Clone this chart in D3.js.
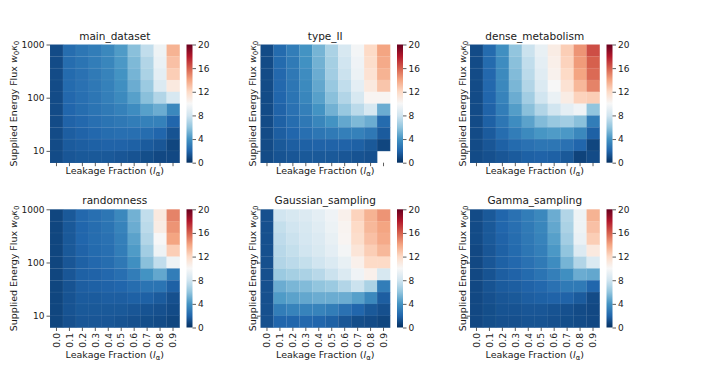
<!DOCTYPE html>
<html>
<head>
<meta charset="utf-8">
<style>
  body { margin: 0; background: #fff; }
  text { font-family: "DejaVu Sans", sans-serif; fill: #1a1a1a; }
</style>
</head>
<body>
<script src="https://d3js.org/d3.v7.min.js"></script>
<svg id="fig" width="707" height="375"></svg>
<script>
// x categories (leakage fraction), y ticks (energy flux), colorbar ticks
const leakage = [0.0, 0.1, 0.2, 0.3, 0.4, 0.5, 0.6, 0.7, 0.8, 0.9];
const fluxTicks = [1000, 100, 10];
const cbarTicks = [0, 4, 8, 12, 16, 20];
const titles = ['main_dataset', 'type_II', 'dense_metabolism',
                'randomness', 'Gaussian_sampling', 'Gamma_sampling'];

// rows: top (flux 1000) -> bottom, columns: leakage 0.0 -> 0.9
const mainDataset = [
  [1.0, 2.3, 2.7, 3.0, 3.5, 4.3, 5.8, 7.5, 9.5, 13.5],
  [1.0, 2.3, 2.6, 3.0, 3.4, 4.2, 5.5, 7.0, 9.3, 13.0],
  [1.0, 2.2, 2.5, 2.9, 3.3, 4.0, 5.3, 6.8, 9.0, 12.5],
  [1.0, 2.2, 2.5, 2.8, 3.2, 3.8, 5.0, 6.3, 8.5, 11.0],
  [1.0, 2.1, 2.4, 2.7, 3.1, 3.6, 4.5, 5.8, 7.0, 8.3],
  [1.0, 2.0, 2.3, 2.6, 2.9, 3.2, 3.7, 4.5, 5.0, 3.5],
  [1.0, 1.9, 2.1, 2.4, 2.6, 2.8, 3.0, 3.2, 3.2, 2.0],
  [1.0, 1.7, 1.9, 2.1, 2.3, 2.4, 2.4, 2.3, 2.0, 1.3],
  [1.0, 1.6, 1.7, 1.8, 1.9, 1.9, 1.8, 1.6, 1.4, 0.8],
  [1.0, 1.4, 1.5, 1.5, 1.5, 1.4, 1.3, 1.1, 0.9, 0.9]
];
const typeII = [
  [1.0, 2.2, 3.0, 4.0, 5.3, 6.8, 8.3, 9.8, 12.0, 14.0],
  [1.0, 2.2, 2.9, 3.9, 5.2, 6.6, 8.0, 9.6, 11.8, 13.8],
  [1.0, 2.1, 2.8, 3.7, 5.0, 6.5, 7.8, 9.4, 11.5, 13.5],
  [1.0, 2.1, 2.7, 3.6, 4.8, 6.2, 7.5, 9.0, 11.0, 12.8],
  [1.0, 2.0, 2.6, 3.4, 4.5, 5.8, 7.0, 8.3, 10.2, 10.2],
  [1.0, 1.9, 2.5, 3.1, 4.0, 5.2, 6.2, 7.3, 8.3, 5.0],
  [1.0, 1.8, 2.3, 2.8, 3.4, 4.0, 4.8, 5.5, 5.0, 2.2],
  [1.0, 1.7, 2.0, 2.4, 2.7, 2.9, 3.1, 3.2, 2.8, 1.6],
  [1.0, 1.5, 1.7, 1.8, 1.9, 1.9, 1.9, 1.8, 1.5, 0.8],
  [1.0, 1.3, 1.4, 1.5, 1.5, 1.5, 1.4, 1.3, 1.2, null]
];
const denseMetabolism = [
  [1.0, 2.2, 3.8, 6.0, 7.8, 9.2, 10.8, 12.5, 14.5, 16.5],
  [1.0, 2.2, 3.7, 5.8, 7.5, 9.0, 10.6, 12.3, 14.3, 16.0],
  [1.0, 2.1, 3.6, 5.6, 7.3, 8.8, 10.4, 12.0, 14.0, 15.7],
  [1.0, 2.1, 3.5, 5.4, 7.0, 8.5, 10.0, 11.5, 13.3, 15.0],
  [1.0, 2.0, 3.3, 5.0, 6.5, 8.0, 9.3, 10.8, 12.3, 12.5],
  [1.0, 1.9, 3.0, 4.4, 5.8, 7.0, 8.0, 9.0, 9.6, 6.0],
  [1.0, 1.8, 2.7, 3.7, 4.6, 5.6, 6.2, 6.5, 5.8, 3.0],
  [1.0, 1.6, 2.3, 3.0, 3.6, 4.1, 4.3, 4.2, 3.5, 1.8],
  [1.0, 1.4, 1.8, 2.2, 2.5, 2.7, 2.7, 2.5, 2.0, 0.8],
  [1.0, 1.2, 1.4, 1.6, 1.8, 1.9, 1.8, 1.5, 0.7, 1.0]
];
const randomness = [
  [0.8, 1.5, 2.1, 2.4, 2.7, 3.5, 5.2, 7.5, 11.0, 15.0],
  [0.8, 1.5, 2.0, 2.3, 2.6, 3.3, 5.0, 7.3, 10.8, 14.5],
  [0.8, 1.5, 2.0, 2.3, 2.5, 3.1, 4.6, 7.0, 10.0, 14.0],
  [0.8, 1.5, 1.9, 2.2, 2.4, 3.0, 4.3, 6.5, 9.5, 12.5],
  [0.8, 1.4, 1.8, 2.1, 2.3, 2.8, 3.8, 5.8, 7.5, 9.5],
  [0.8, 1.4, 1.8, 1.9, 2.1, 2.4, 3.0, 4.0, 4.8, 3.0],
  [0.8, 1.3, 1.7, 1.8, 1.9, 2.0, 2.3, 2.6, 2.6, 1.8],
  [0.8, 1.3, 1.6, 1.6, 1.7, 1.7, 1.8, 1.8, 1.6, 1.2],
  [0.8, 1.3, 1.5, 1.5, 1.5, 1.5, 1.4, 1.3, 1.2, 1.0],
  [0.8, 1.2, 1.4, 1.4, 1.4, 1.3, 1.2, 1.1, 1.0, 0.8]
];
const gaussianSampling = [
  [1.2, 8.0, 8.3, 8.6, 9.0, 9.6, 10.5, 12.3, 13.5, 14.5],
  [1.2, 7.6, 8.0, 8.3, 8.8, 9.4, 10.3, 12.0, 13.3, 14.0],
  [1.2, 7.4, 7.8, 8.2, 8.6, 9.2, 10.2, 11.8, 13.0, 13.8],
  [1.2, 7.2, 7.6, 8.0, 8.4, 9.0, 9.8, 11.3, 12.5, 13.3],
  [1.2, 7.0, 7.3, 7.6, 8.0, 8.5, 9.2, 10.5, 12.0, 12.0],
  [1.2, 6.3, 6.6, 6.8, 7.2, 7.8, 8.5, 9.6, 10.5, 8.3],
  [1.2, 5.0, 5.4, 5.6, 6.0, 6.3, 7.0, 7.8, 6.8, 3.0],
  [1.2, 4.3, 4.6, 4.8, 5.0, 5.0, 5.0, 4.5, 3.5, 1.7],
  [1.2, 3.0, 3.3, 3.3, 3.3, 3.0, 2.5, 2.0, 1.5, 1.2],
  [1.2, 2.0, 2.0, 2.1, 2.0, 1.8, 1.4, 1.1, 1.0, 0.8]
];
const gammaSampling = [
  [1.0, 1.5, 2.0, 2.5, 3.0, 3.5, 5.0, 7.0, 9.5, 13.5],
  [1.0, 1.5, 2.0, 2.4, 2.9, 3.4, 4.8, 6.8, 9.5, 13.0],
  [1.0, 1.5, 1.9, 2.3, 2.8, 3.3, 4.5, 6.5, 9.3, 12.5],
  [0.9, 1.4, 1.8, 2.2, 2.7, 3.1, 4.2, 6.0, 8.6, 11.0],
  [0.9, 1.4, 1.8, 2.1, 2.5, 2.9, 3.7, 5.3, 7.0, 8.5],
  [0.9, 1.3, 1.7, 1.9, 2.2, 2.6, 3.1, 3.8, 5.0, 4.8],
  [0.9, 1.3, 1.6, 1.7, 1.9, 2.1, 2.5, 2.9, 2.9, 2.0],
  [0.9, 1.2, 1.4, 1.5, 1.7, 1.8, 1.9, 1.9, 1.6, 1.0],
  [0.9, 1.1, 1.3, 1.3, 1.4, 1.4, 1.3, 1.2, 1.0, 0.9],
  [0.9, 1.1, 1.2, 1.2, 1.3, 1.3, 1.2, 1.1, 1.0, 0.9]
];
const datasets = [mainDataset, typeII, denseMetabolism, randomness, gaussianSampling, gammaSampling];

// RdBu_r, linear between the colorbrewer stops like matplotlib
const rdbu = ['#053061', '#2166ac', '#4393c3', '#92c5de', '#d1e5f0', '#f7f7f7',
              '#fddbc7', '#f4a582', '#d6604d', '#b2182b', '#67001f'];
const color = d3.scaleLinear()
  .domain(d3.range(11).map(i => i * 2))
  .range(rdbu)
  .interpolate(d3.interpolateRgb)
  .clamp(true);

const svg = d3.select('#fig');
const defs = svg.append('defs');
const grad = defs.append('linearGradient').attr('id', 'cbar')
  .attr('x1', 0).attr('y1', 1).attr('x2', 0).attr('y2', 0);
rdbu.forEach((c, i) => grad.append('stop').attr('offset', i / 10).attr('stop-color', c));

const W = 129.5, H = 118.2;
const lefts = [50, 260.5, 470];
const tops = [44.5, 209.3];
const nRows = 10;

const x = d3.scaleBand().domain(leakage).range([0, W]);
const yBand = d3.scaleBand().domain(d3.range(nRows)).range([0, H]);
// 4.5 rows per decade, 1000 at the top edge
const yLog = d3.scaleLog().domain([Math.pow(10, 3 - nRows / 4.5), 1000]).range([H, 0]);
const cScale = d3.scaleLinear().domain([0, 20]).range([H, 0]);

datasets.forEach((data, k) => {
  const col = k % 3, row = Math.floor(k / 3);
  const g = svg.append('g').attr('transform', `translate(${lefts[col]}, ${tops[row]})`);

  const cells = [];
  data.forEach((r, i) => r.forEach((v, j) => { if (v !== null) cells.push({i, j, v}); }));
  g.append('g').selectAll('rect').data(cells).enter().append('rect')
    .attr('x', d => x(leakage[d.j]))
    .attr('y', d => yBand(d.i))
    .attr('width', x.bandwidth() + 0.3)
    .attr('height', yBand.bandwidth() + 0.3)
    .attr('fill', d => color(d.v));
  // faint cell edges
  g.append('g').selectAll('rect').data(cells).enter().append('rect')
    .attr('x', d => x(leakage[d.j]))
    .attr('y', d => yBand(d.i))
    .attr('width', x.bandwidth())
    .attr('height', yBand.bandwidth())
    .attr('fill', 'none')
    .attr('stroke', '#fff').attr('stroke-opacity', 0.07).attr('stroke-width', 0.5);

  // x axis
  const xAxis = d3.axisBottom(x).tickSize(3.5).tickPadding(2)
    .tickFormat(row === 1 ? d3.format('.1f') : () => '');
  const xg = g.append('g').attr('transform', `translate(0, ${H})`).call(xAxis);
  xg.select('.domain').remove();
  xg.selectAll('.tick line').attr('stroke', '#333').attr('stroke-width', 0.8);
  if (row === 1) {
    xg.selectAll('.tick text')
      .attr('font-size', 9.2).attr('font-family', 'DejaVu Sans')
      .attr('transform', 'rotate(-90)')
      .attr('text-anchor', 'end')
      .attr('x', -5.5).attr('y', 0).attr('dy', '0.35em');
  }

  // y axis
  const yAxis = d3.axisLeft(yLog).tickValues(fluxTicks).tickSize(3.5).tickPadding(2)
    .tickFormat(col === 0 ? d3.format('d') : () => '');
  const yg = g.append('g').call(yAxis);
  yg.select('.domain').remove();
  yg.selectAll('.tick line').attr('stroke', '#333').attr('stroke-width', 0.8);
  yg.selectAll('.tick text').attr('font-size', 9).attr('font-family', 'DejaVu Sans');

  // title
  g.append('text').attr('x', W / 2).attr('y', -5)
    .attr('text-anchor', 'middle').attr('font-size', 10.5).text(titles[k]);

  // x label
  const xl = g.append('text').attr('x', W / 2)
    .attr('y', row === 0 ? H + 11.5 : H + 30.5)
    .attr('text-anchor', 'middle').attr('font-size', 9.5);
  xl.append('tspan').text('Leakage Fraction (');
  xl.append('tspan').attr('font-style', 'italic').text('l');
  xl.append('tspan').attr('font-size', 7).attr('dy', 2).text('α');
  xl.append('tspan').attr('dy', -2).text(')');

  // y label
  const ylx = col === 0 ? -33 : -4.5;
  const yl = g.append('text').attr('transform', `translate(${ylx}, ${H / 2}) rotate(-90)`)
    .attr('text-anchor', 'middle').attr('font-size', 9.5);
  yl.append('tspan').text('Supplied Energy Flux ');
  yl.append('tspan').attr('font-style', 'italic').text('w');
  yl.append('tspan').attr('font-size', 7).attr('dy', 2).text('0');
  yl.append('tspan').attr('font-style', 'italic').attr('dy', -2).text('κ');
  yl.append('tspan').attr('font-size', 7).attr('dy', 2).text('0');

  // colorbar
  const cb = g.append('g').attr('transform', `translate(${W + 7}, 0)`);
  cb.append('rect').attr('width', 6).attr('height', H).attr('fill', 'url(#cbar)');
  const cAxis = d3.axisRight(cScale).tickValues(cbarTicks).tickSize(3.5).tickPadding(2);
  const cg = cb.append('g').attr('transform', 'translate(6, 0)').call(cAxis);
  cg.select('.domain').remove();
  cg.selectAll('.tick line').attr('stroke', '#333').attr('stroke-width', 0.8);
  cg.selectAll('.tick text').attr('font-size', 9).attr('font-family', 'DejaVu Sans');
});
</script>
</body>
</html>
